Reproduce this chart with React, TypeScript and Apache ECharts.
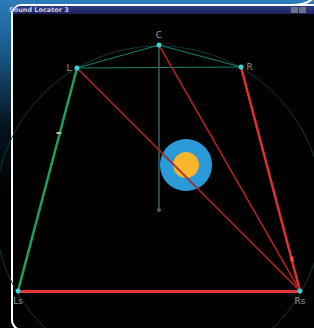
import React, { useEffect, useRef } from "react";
import * as echarts from "echarts";

// Speaker layout (screen-like units, y grows downward)
const speakerNames = ["C", "L", "R", "Ls", "Rs"];
const speakerX = [159, 77, 241, 18, 300];
const speakerY = [45, 68, 67, 291, 291];
const labelSides = ["top", "left", "right", "bottom", "bottom"];
const listener = [159, 210];
const soundSource = [186, 165];
const midMarkersGreen = [[59, 133]];
const midMarkersRed = [[292, 259]];

// connections: [from, to, color, width, opacity]
const links: [string, string, string, number, number][] = [
  ["C", "L", "#167a66", 1.2, 1],
  ["C", "R", "#167a66", 1.2, 1],
  ["L", "R", "#17846c", 1.2, 1],
  ["L", "Ls", "#1f9f5a", 2.5, 1],
  ["Rs", "Ls", "#e33838", 3, 1],
  ["Rs", "R", "#df3030", 2.5, 1],
  ["Rs", "C", "#a82222", 1.6, 1],
  ["Rs", "L", "#a42424", 2, 0.85],
];

function pos(name: string): number[] {
  const i = speakerNames.indexOf(name);
  return [speakerX[i], speakerY[i]];
}

export default function App() {
  const ref = useRef<HTMLDivElement>(null);
  useEffect(() => {
    if (!ref.current) return;
    const chart = echarts.init(ref.current, null, { renderer: "svg" });
    const lineData = links.map(([a, b, color, width, opacity]) => ({
      coords: [pos(a), pos(b)],
      lineStyle: { color, width, opacity },
    }));
    lineData.unshift({
      coords: [pos("C"), listener],
      lineStyle: { color: "#35605f", width: 1.5, opacity: 1 },
    });
    chart.setOption({
      animation: false,
      backgroundColor: "#000",
      grid: { left: 0, right: 0, top: 0, bottom: 0 },
      xAxis: { type: "value", min: 0, max: 314, show: false },
      yAxis: { type: "value", min: 0, max: 328, inverse: true, show: false },
      graphic: [
        {
          type: "rect",
          z: 0,
          shape: { x: 0, y: 0, width: 314, height: 328 },
          style: {
            fill: new echarts.graphic.LinearGradient(0, 0, 0, 1, [
              { offset: 0, color: "#2b7cb8" },
              { offset: 0.15, color: "#1a5b8c" },
              { offset: 0.38, color: "#06141f" },
              { offset: 0.6, color: "#000" },
              { offset: 1, color: "#000" },
            ]),
          },
        },
        {
          type: "bezierCurve",
          z: 0,
          shape: { x1: 292, y1: 5, x2: 314, y2: -2, cpx1: 306, cpy1: 5 },
          style: { stroke: "#fff", lineWidth: 2, fill: "none" },
        },
        {
          type: "rect",
          z: 0,
          shape: { x: 12, y: 5, width: 330, height: 325, r: 10 },
          style: { fill: "#000", stroke: "#fff", lineWidth: 2 },
        },
        {
          type: "rect",
          z: 0,
          shape: { x: 13, y: 6, width: 301, height: 8, r: [9, 0, 0, 0] },
          style: {
            fill: new echarts.graphic.LinearGradient(0, 0, 0, 1, [
              { offset: 0, color: "#2f3c86" },
              { offset: 1, color: "#1a2358" },
            ]),
          },
        },
        {
          type: "text",
          z: 1,
          x: 9,
          y: 6.5,
          style: {
            text: "Sound Locator 3",
            fill: "#c9cdea",
            font: "bold 6.5px 'DejaVu Sans'",
          },
        },
        {
          type: "rect",
          z: 1,
          shape: { x: 291, y: 7, width: 7, height: 6 },
          style: { fill: "#6c7184" },
        },
        {
          type: "rect",
          z: 1,
          shape: { x: 299, y: 7, width: 7, height: 6 },
          style: { fill: "#6c7184" },
        },
      ],
      series: [
        {
          type: "scatter",
          z: 2,
          silent: true,
          symbol: "circle",
          symbolSize: 328,
          data: [listener],
          itemStyle: { color: "rgba(0,0,0,0)", borderColor: "#0f3a3c", borderWidth: 1, opacity: 1 },
        },
        {
          type: "scatter",
          z: 3,
          silent: true,
          symbolSize: 52,
          data: [soundSource],
          itemStyle: { color: "#2b9ad9", opacity: 1 },
        },
        {
          type: "scatter",
          z: 3,
          silent: true,
          symbolSize: 26,
          data: [soundSource],
          itemStyle: { color: "#f9b52c", opacity: 1 },
        },
        {
          type: "lines",
          coordinateSystem: "cartesian2d",
          z: 4,
          silent: true,
          data: lineData,
        },
        {
          type: "scatter",
          z: 5,
          silent: true,
          symbolSize: 4,
          data: [listener],
          itemStyle: { color: "#3a6464", opacity: 1 },
        },
        {
          type: "scatter",
          z: 5,
          silent: true,
          symbol: "rect",
          symbolSize: [5, 2],
          data: midMarkersGreen,
          itemStyle: { color: "#9ccc9a", opacity: 1 },
        },
        {
          type: "scatter",
          z: 5,
          silent: true,
          symbol: "rect",
          symbolSize: [3, 5],
          data: midMarkersRed,
          itemStyle: { color: "#ff4a4a", opacity: 1 },
        },
        {
          type: "scatter",
          z: 6,
          silent: true,
          symbolSize: 5,
          itemStyle: { color: "#3cd4d4", opacity: 1 },
          data: speakerNames.map((n, i) => ({
            name: n,
            value: [speakerX[i], speakerY[i]],
            label: {
              show: true,
              position: labelSides[i],
              formatter: n,
              color: "#8e9c9e",
              fontSize: 9,
              fontFamily: "DejaVu Sans",
              distance: 3,
            },
          })),
        },
      ],
    });
    return () => chart.dispose();
  }, []);
  return (
    <div
      ref={ref}
      style={{ position: "absolute", left: 0, top: 0, width: 314, height: 328 }}
    />
  );
}
